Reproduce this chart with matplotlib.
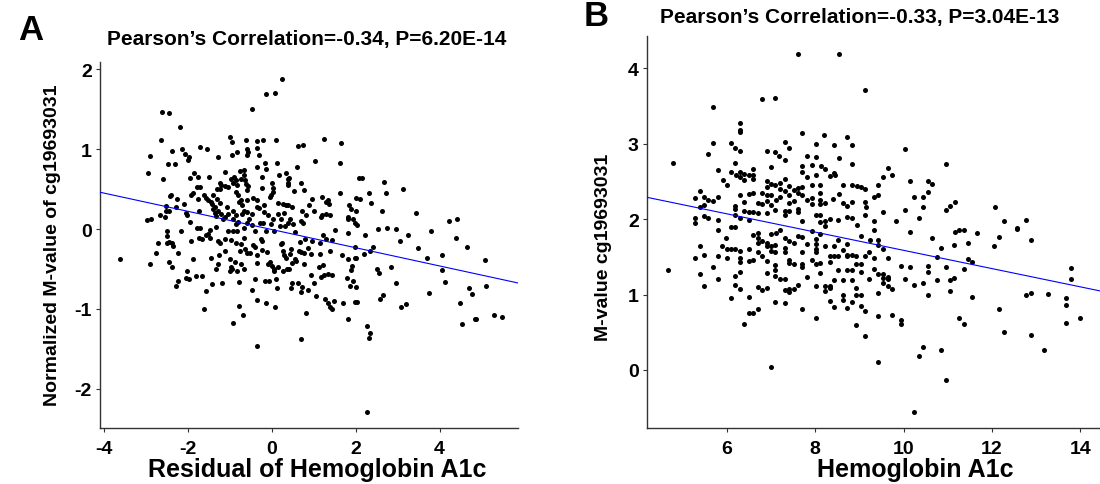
import numpy as np
import matplotlib
matplotlib.use("Agg")
import matplotlib.pyplot as plt

plt.rcParams['font.family'] = ['Liberation Sans', 'DejaVu Sans']
plt.rcParams['font.weight'] = 'bold'
plt.rcParams['axes.unicode_minus'] = False

# Panel A: residual of HbA1c vs normalized M-value
a_points = np.array([
    (0.24, 1.88), (-0.14, 1.69), (0.07, 1.70), (-0.46, 1.50), (-2.62, 1.47), (-2.44, 1.45),
    (-2.18, 1.28), (-2.64, 1.11), (-2.89, 0.91), (-2.38, 0.98), (-2.48, 0.81), (-2.31, 0.81),
    (-2.94, 0.70), (-2.59, 0.62), (-2.13, 1.00), (-2.06, 0.94), (-1.98, 0.90), (-2.00, 0.86),
    (-1.71, 1.03), (-1.54, 1.00), (-1.29, 0.90), (-0.99, 1.15), (-0.94, 1.09), (-0.94, 0.92),
    (-0.82, 0.96), (-0.61, 1.12), (-0.58, 1.00), (-0.56, 0.97), (-0.58, 0.93), (-0.34, 1.10),
    (-0.20, 1.12), (-0.34, 1.01), (-0.30, 0.92), (-0.17, 0.83), (0.10, 1.12), (0.12, 0.83),
    (-0.35, 0.78), (-0.14, 0.75), (0.63, 1.04), (0.74, 1.05), (1.04, 0.85), (0.60, 0.77),
    (0.18, 0.67), (0.34, 0.70), (0.42, 0.64), (0.38, 0.62), (0.69, 0.57), (0.77, 0.49),
    (0.53, 0.47), (0.38, 0.57), (0.40, 0.55), (0.02, 0.57), (0.03, 0.51), (-0.02, 0.42),
    (-0.23, 0.51), (-0.22, 0.65), (-0.75, 0.72), (-0.66, 0.74), (-0.66, 0.67), (-0.74, 0.63),
    (-0.64, 0.61), (-0.60, 0.56), (-0.56, 0.54), (-0.58, 0.49), (-0.82, 0.55), (-0.84, 0.46),
    (-0.80, 0.43), (-0.90, 0.65), (-0.98, 0.62), (-1.10, 0.71), (-0.86, 0.61), (-0.93, 0.57),
    (-1.23, 0.57), (-1.20, 0.55), (-1.10, 0.54), (-1.04, 0.53), (-1.22, 0.50), (-1.30, 0.50),
    (-1.50, 0.65), (-1.84, 0.70), (-1.75, 0.65), (-1.94, 0.64), (-1.88, 0.45), (-1.78, 0.52),
    (-1.76, 0.38), (-1.71, 0.53), (-2.43, 0.41), (-2.41, 0.43), (-2.26, 0.38), (-2.51, 0.29),
    (-2.67, 0.18), (-2.88, 0.13), (-2.98, 0.11), (-2.44, 0.23), (-2.52, 0.22), (-2.54, 0.15),
    (-2.29, 0.27), (-2.10, 0.31), (-2.04, 0.20), (-2.02, 0.18), (-2.16, -0.02), (-1.95, 0.09),
    (-1.92, 0.43), (-1.72, 0.22), (-1.79, 0.01), (-1.70, 0.01), (-1.62, 0.42), (-1.57, 0.39),
    (-1.52, 0.36), (-1.40, 0.42), (-1.44, 0.34), (-1.42, 0.31), (-1.30, 0.37), (-1.23, 0.32),
    (-1.34, 0.28), (-1.39, 0.25), (-1.36, 0.20), (-1.32, 0.16), (-1.28, 0.22), (-1.20, 0.19),
    (-1.17, 0.13), (-1.06, 0.27), (-1.03, 0.19), (-1.10, 0.15), (-0.91, 0.22), (-0.86, 0.17),
    (-0.93, 0.12), (-0.86, 0.06), (-0.77, 0.34), (-0.74, 0.36), (-0.70, 0.30), (-0.58, 0.21),
    (-0.66, 0.22), (-0.70, 0.19), (-0.80, 0.09), (-0.65, 0.01), (-0.58, 0.08), (-0.48, 0.19),
    (-0.54, 0.12), (-0.46, 0.05), (-0.36, 0.36), (-0.58, 0.36), (-0.45, 0.39), (-0.36, 0.28),
    (-0.30, 0.26), (-0.19, 0.30), (-0.18, 0.21), (-0.20, 0.08), (-0.28, 0.08), (-0.03, 0.40),
    (0.04, 0.46), (-0.08, 0.17), (-0.02, 0.06), (0.04, 0.13), (0.16, 0.19), (0.16, 0.32),
    (0.26, 0.31), (0.34, 0.30), (0.40, 0.30), (0.48, 0.28), (0.29, 0.20), (0.22, 0.12),
    (0.19, 0.04), (0.31, 0.04), (0.38, 0.08), (0.44, 0.12), (0.51, 0.06), (0.72, 0.22),
    (0.70, 0.10), (0.81, 0.17), (0.88, 0.30), (0.96, 0.37), (1.02, 0.23), (1.17, 0.15),
    (0.75, 0.08), (0.56, -0.04), (0.05, -0.02), (-0.14, -0.02), (-0.40, -0.03), (-0.92, -0.03),
    (-0.82, -0.03), (-1.03, -0.03), (-1.48, -0.01), (-1.32, 0.02), (-2.50, -0.02),
    (-3.62, -0.38), (-2.90, -0.44), (-2.76, -0.30), (-2.71, -0.18), (-2.50, -0.09), (-2.50, -0.17),
    (-2.44, -0.16), (-2.38, -0.18), (-2.35, -0.21), (-2.44, -0.41), (-2.37, -0.48), (-2.22, -0.30),
    (-2.29, -0.71), (-2.24, -0.65), (-2.02, -0.53), (-2.03, -0.61), (-1.98, -0.63), (-1.87, -0.37),
    (-1.81, -0.59), (-1.67, -0.59), (-1.93, -0.15), (-1.74, -0.11), (-1.66, -0.12), (-1.57, -0.08),
    (-1.51, -0.06), (-1.46, -0.11), (-1.57, -0.77), (-1.62, -1.00), (-1.45, -0.36), (-1.41, -0.69),
    (-1.33, -0.50), (-1.28, -0.44), (-1.26, -0.33), (-1.28, -0.15), (-1.24, -0.17), (-1.18, -0.67),
    (-1.10, -0.28), (-1.12, -0.13), (-0.99, -0.38), (-0.98, -0.14), (-0.96, -0.48), (-0.99, -0.53),
    (-0.94, -0.50), (-0.93, -1.18), (-0.88, -0.41), (-0.86, -0.18), (-0.83, -0.53), (-0.77, -0.66),
    (-0.78, -0.96), (-0.69, -1.08), (-0.75, -0.27), (-0.73, -0.44), (-0.67, -0.50), (-0.74, -0.19),
    (-0.66, -0.11), (-0.64, -0.25), (-0.58, -0.30), (-0.52, -0.30), (-0.48, -0.76), (-0.44, -0.20),
    (-0.40, -0.23), (-0.36, -0.33), (-0.34, -0.43), (-0.39, -0.62), (-0.35, -0.89), (-0.35, -1.47),
    (-0.26, -0.13), (-0.24, -0.15), (-0.22, -0.26), (-0.16, -0.65), (-0.14, -0.93), (-0.10, -0.29),
    (-0.08, -0.44), (-0.05, -0.41), (-0.07, -0.65), (0.02, -0.46), (0.05, -0.52), (0.06, -0.50),
    (0.08, -0.98), (0.10, -0.63), (0.13, -0.74), (0.16, -0.48), (0.22, -0.19), (0.24, -0.17),
    (0.27, -0.27), (0.29, -0.33), (0.28, -0.52), (0.35, -0.36), (0.37, -0.50), (0.42, -0.50),
    (0.43, -0.31), (0.46, -0.25), (0.46, -0.74), (0.48, -0.67), (0.49, -0.42), (0.56, -0.38),
    (0.59, -0.40), (0.63, -0.67), (0.64, -0.28), (0.68, -0.16), (0.70, -0.29), (0.70, -1.38),
    (0.72, -0.73), (0.70, -0.79), (0.76, -0.30), (0.78, -0.44), (0.80, -0.13), (0.81, -1.05),
    (0.86, -0.24), (0.87, -0.76), (0.93, -0.31), (0.96, -0.15), (1.02, -0.67), (1.06, -0.84),
    (1.16, -0.18), (1.16, -0.31), (1.17, -0.60), (1.12, -0.48), (0.94, -0.58),
    (1.24, 1.13), (1.65, 1.08), (1.62, 0.83), (2.09, 0.64), (2.16, 0.64), (2.67, 0.59),
    (3.14, 0.50), (1.62, 0.45), (2.33, 0.45), (2.72, 0.45), (1.21, 0.40), (1.35, 0.36),
    (1.30, 0.34), (1.37, 0.31), (2.00, 0.39), (2.10, 0.37), (2.37, 0.33), (1.84, 0.30),
    (1.90, 0.25), (2.00, 0.22), (2.62, 0.23), (3.44, 0.20), (1.19, 0.17), (1.29, 0.19),
    (1.39, 0.17), (1.83, 0.15), (1.95, 0.12), (1.81, 0.12), (1.98, 0.08), (2.03, 0.05),
    (1.50, -0.01), (2.53, 0.00), (2.74, 0.01), (2.96, 0.00), (3.80, -0.02), (4.23, 0.10),
    (4.41, 0.13),
    (1.23, -0.08), (1.30, -0.13), (1.44, -0.14), (1.81, -0.05), (2.23, -0.08), (3.05, -0.15),
    (3.26, -0.07), (4.40, -0.11), (4.65, -0.23), (3.49, -0.24), (2.42, -0.22), (1.98, -0.23),
    (1.39, -0.28), (1.67, -0.32), (1.82, -0.38), (1.99, -0.36), (2.02, -0.36), (2.19, -0.31),
    (2.34, -0.28), (1.92, -0.46), (1.89, -0.51), (1.79, -0.61), (1.95, -0.65), (1.87, -0.71),
    (2.01, -0.73), (1.98, -0.91), (2.04, -0.91), (2.51, -0.50), (2.55, -0.55), (2.57, -0.88),
    (2.65, -0.83), (2.85, -0.48), (2.96, -0.68), (3.08, -0.98), (3.20, -0.94), (1.83, -1.12),
    (2.28, -1.21), (2.35, -1.30), (2.32, -1.36), (2.28, -2.29), (3.69, -0.36), (4.05, -0.33),
    (4.07, -0.51), (4.12, -0.66), (3.74, -0.80), (4.49, -0.93), (4.70, -0.74), (4.78, -0.81),
    (5.09, -0.39), (5.10, -0.71), (4.53, -1.19), (4.84, -1.13), (4.87, -1.12), (5.31, -1.08),
    (5.50, -1.10), (1.22, -0.45), (1.24, -0.58), (1.34, -0.56), (1.43, -0.58), (1.26, -0.87),
    (1.34, -0.92), (1.38, -0.97), (1.44, -1.00), (1.49, -0.90), (1.71, -0.93),
])

# Panel B: HbA1c vs M-value
b_points = np.array([
    (7.61, 4.19), (8.53, 4.19), (9.13, 3.72), (6.80, 3.60), (7.10, 3.61), (5.68, 3.49),
    (6.29, 3.28), (6.29, 3.18), (6.29, 3.15), (7.71, 3.14), (8.21, 3.12), (8.73, 3.09),
    (5.68, 3.01), (6.09, 3.01), (7.31, 3.02), (8.02, 3.00), (8.42, 2.98), (8.83, 2.98),
    (6.19, 2.95), (7.41, 2.95), (6.29, 2.90), (6.90, 2.91), (7.10, 2.89), (7.19, 2.84),
    (7.31, 2.79), (5.58, 2.87), (4.77, 2.74), (8.53, 2.81), (7.82, 2.84), (8.02, 2.82),
    (6.19, 2.74), (8.84, 2.73), (7.71, 2.71), (7.92, 2.72), (8.12, 2.70), (7.00, 2.69),
    (5.79, 2.65), (6.60, 2.66), (6.09, 2.62), (6.29, 2.63), (7.71, 2.63), (8.22, 2.67),
    (6.39, 2.60), (6.50, 2.59), (6.60, 2.59), (6.20, 2.58), (6.29, 2.56), (7.82, 2.56),
    (8.02, 2.59), (8.33, 2.57), (8.42, 2.61), (8.44, 2.58), (5.90, 2.52), (6.39, 2.52),
    (6.60, 2.53), (7.31, 2.53), (6.00, 2.45), (6.90, 2.50), (7.00, 2.47), (6.90, 2.43),
    (7.10, 2.46), (7.20, 2.48), (7.41, 2.44), (7.62, 2.42), (7.71, 2.43), (7.92, 2.46),
    (8.11, 2.45), (8.62, 2.45), (8.84, 2.46), (8.94, 2.44), (9.03, 2.43), (9.13, 2.40),
    (7.20, 2.40), (7.31, 2.37), (7.51, 2.39), (7.61, 2.35), (5.38, 2.37), (6.29, 2.32),
    (6.50, 2.33), (6.60, 2.35), (6.80, 2.35), (6.90, 2.32), (7.00, 2.32), (7.20, 2.30),
    (7.41, 2.32), (7.71, 2.32), (8.11, 2.35), (8.53, 2.33), (5.49, 2.30), (5.28, 2.28),
    (5.58, 2.26), (5.68, 2.24), (5.79, 2.29), (6.39, 2.23), (6.70, 2.22), (6.80, 2.20),
    (6.90, 2.24), (7.00, 2.19), (7.11, 2.25), (7.41, 2.22), (7.51, 2.24), (7.81, 2.26),
    (7.92, 2.28), (7.92, 2.20), (8.11, 2.25), (8.11, 2.20), (8.22, 2.22), (8.41, 2.27),
    (8.62, 2.21), (8.73, 2.18), (8.83, 2.23), (9.13, 2.23), (9.14, 2.16), (5.38, 2.16),
    (5.49, 2.19), (6.19, 2.18), (6.19, 2.13), (6.39, 2.11), (6.50, 2.09), (6.60, 2.09),
    (6.70, 2.08), (6.90, 2.08), (7.10, 2.12), (7.31, 2.11), (7.31, 2.06), (7.41, 2.11),
    (7.61, 2.10), (7.61, 2.14), (7.71, 1.97), (8.02, 2.05), (8.11, 2.06), (8.22, 1.98),
    (8.33, 2.00), (8.52, 1.99), (8.73, 2.03), (8.84, 2.01), (9.13, 2.06), (5.28, 2.01),
    (5.28, 1.95), (5.49, 2.04), (5.58, 2.01), (5.79, 1.99), (6.19, 2.05), (6.29, 2.01),
    (6.09, 1.90), (6.19, 1.90), (6.50, 1.99), (8.11, 1.96), (8.22, 1.91), (8.94, 1.92),
    (4.67, 1.33), (5.28, 1.48), (5.38, 1.65), (5.38, 1.27), (5.49, 1.53), (5.49, 1.12),
    (5.68, 1.37), (5.79, 1.51), (5.79, 1.20), (5.79, 1.85), (5.89, 1.64), (6.00, 1.61),
    (6.00, 1.49), (6.09, 1.60), (6.09, 0.96), (6.19, 1.60), (6.19, 1.25), (6.19, 1.13),
    (6.29, 1.58), (6.29, 1.49), (6.29, 1.43), (6.29, 1.30), (6.29, 1.07), (6.39, 0.61),
    (6.50, 1.61), (6.50, 1.44), (6.50, 0.97), (6.50, 0.75), (6.60, 1.46), (6.60, 0.75),
    (6.70, 0.81), (6.70, 1.10), (6.80, 1.06), (6.90, 1.09), (6.90, 1.29), (6.90, 1.44),
    (7.00, 0.04), (7.10, 1.39), (7.10, 1.33), (7.10, 1.24), (7.10, 0.90), (7.20, 1.20),
    (7.31, 1.20), (7.31, 1.06), (7.31, 0.89), (7.41, 1.04), (7.41, 1.08), (7.41, 1.42),
    (7.41, 1.46), (7.51, 1.40), (7.51, 1.08), (7.62, 1.13), (7.71, 0.81), (7.71, 1.41),
    (7.71, 1.36), (7.81, 1.23), (7.92, 1.46), (8.02, 1.40), (8.02, 1.12), (8.02, 0.69),
    (8.11, 1.42), (8.11, 1.29), (8.22, 1.12), (8.22, 1.05), (8.33, 1.11), (8.33, 1.09),
    (8.33, 0.92), (8.42, 1.19), (8.42, 0.84), (8.52, 1.33), (8.62, 1.00), (8.62, 0.93),
    (8.62, 1.19), (8.73, 1.33), (8.73, 0.82), (8.83, 1.19), (8.83, 1.33), (8.83, 0.90),
    (8.93, 0.60), (8.93, 0.99), (8.93, 1.09), (8.93, 1.40), (9.03, 1.30), (9.03, 1.40),
    (9.03, 1.00), (9.03, 0.85), (9.13, 0.78), (9.13, 0.45), (9.21, 1.21), (9.13, 1.51),
    (5.99, 1.75), (6.60, 1.79), (6.70, 1.82), (6.70, 1.75), (6.70, 1.69), (6.70, 1.56),
    (6.80, 1.71), (6.80, 1.51), (6.90, 1.68), (6.90, 1.64), (7.00, 1.80), (7.00, 1.58),
    (7.00, 1.64), (7.11, 1.82), (7.10, 1.66), (7.10, 1.57), (7.20, 1.85), (7.31, 1.75),
    (7.31, 1.62), (7.31, 1.57), (7.41, 1.71), (7.51, 1.68), (7.62, 1.78), (7.71, 1.76),
    (7.71, 1.56), (7.81, 1.67), (7.92, 1.84), (8.02, 1.74), (8.02, 1.67), (8.02, 1.61),
    (8.02, 1.56), (8.11, 1.81), (8.22, 1.64), (8.33, 1.51), (8.33, 1.43), (8.42, 1.64),
    (8.42, 1.51), (8.52, 1.73), (8.52, 1.51), (8.62, 1.59), (8.73, 1.67), (8.73, 1.53),
    (8.73, 1.51), (8.83, 1.53), (8.93, 1.51), (9.03, 1.78), (9.22, 1.56),
    (10.04, 2.93), (10.96, 2.73), (9.64, 2.68), (9.73, 2.59), (9.53, 2.56), (9.43, 2.46),
    (10.14, 2.51), (10.55, 2.51), (10.65, 2.47), (10.55, 2.36), (9.33, 2.30), (9.43, 2.32),
    (10.24, 2.30), (10.44, 2.30), (11.16, 2.23), (11.06, 2.18), (10.96, 2.12), (10.44, 2.16),
    (10.04, 2.12), (9.53, 2.09), (10.35, 2.02), (12.07, 2.16), (12.27, 1.98), (12.78, 1.99),
    (12.57, 1.88), (9.33, 1.97), (9.84, 1.97),
    (9.33, 1.86), (10.14, 1.83), (9.43, 1.73), (9.43, 1.66), (9.53, 1.61), (9.23, 1.73),
    (9.33, 1.48), (9.64, 1.48), (10.65, 1.75), (10.85, 1.62), (10.75, 1.50), (11.16, 1.83),
    (11.25, 1.85), (11.36, 1.85), (11.66, 1.82), (11.15, 1.66), (11.46, 1.68), (11.46, 1.47),
    (11.56, 1.43), (11.36, 1.34), (12.06, 1.65), (12.17, 1.77), (12.57, 1.87), (12.88, 1.73),
    (9.33, 1.34), (9.43, 1.27), (9.53, 1.27), (9.53, 1.22), (9.64, 1.23), (9.64, 1.20),
    (9.64, 1.12), (9.53, 1.15), (9.73, 1.08), (9.43, 1.02), (9.94, 1.38), (10.14, 1.36),
    (10.04, 1.20), (10.24, 1.13), (10.44, 1.16), (10.55, 1.38), (10.55, 1.30), (10.55, 0.99),
    (10.75, 1.19), (10.96, 1.36), (11.06, 1.19), (11.06, 1.05), (11.15, 1.22), (11.56, 0.97),
    (9.73, 0.73), (9.43, 0.72), (9.94, 0.66), (9.94, 0.61), (11.25, 0.69), (11.36, 0.61),
    (10.44, 0.31), (10.35, 0.18), (10.85, 0.27), (9.43, 0.10), (10.96, -0.13), (10.24, -0.56),
    (12.17, 0.81), (12.27, 0.51), (12.78, 1.00), (12.88, 1.02), (13.28, 1.01), (12.88, 0.46),
    (13.19, 0.26), (13.69, 0.95), (13.69, 0.86), (13.69, 0.62), (13.79, 1.35), (13.79, 1.21),
    (13.99, 0.69),
])

# fitted lines (slope, intercept) as drawn in the figure
a_fit = (-0.114, -0.006)
b_fit = (-0.121, 2.797)

a_xticks = [-4, -2, 0, 2, 4]
a_yticks = [-2, -1, 0, 1, 2]
b_xticks = [6, 8, 10, 12, 14]
b_yticks = [0, 1, 2, 3, 4]

a_title = "Pearson\u2019s Correlation=-0.34, P=6.20E-14"
b_title = "Pearson\u2019s Correlation=-0.33, P=3.04E-13"

W, H = 1100, 485
fig = plt.figure(figsize=(W / 100, H / 100), dpi=100)


def style(ax, xticks, yticks, xlim, ylim):
    ax.set_xlim(*xlim)
    ax.set_ylim(*ylim)
    ax.set_xticks(xticks)
    ax.set_yticks(yticks)
    for s in ['top', 'right']:
        ax.spines[s].set_visible(False)
    for s in ['left', 'bottom']:
        ax.spines[s].set_color('#333333')
        ax.spines[s].set_linewidth(1.0)
    ax.tick_params(length=3, width=0.8, color='#333333', labelsize=14, pad=3)
    ax.tick_params(axis='x', pad=6)
    for lab in ax.get_xticklabels() + ax.get_yticklabels():
        lab.set_fontweight('bold')


axA = fig.add_axes([100 / W, 1 - 429 / H, 418 / W, 366 / H])
axA.scatter(a_points[:, 0], a_points[:, 1], s=13, color='black', linewidths=0, zorder=2)
axA.axline((0, a_fit[1]), slope=a_fit[0], color='blue', lw=0.8, zorder=3)
style(axA, a_xticks, a_yticks, (-4.09, 5.87), (-2.49, 2.09))

axB = fig.add_axes([647 / W, 1 - 429 / H, 453 / W, 392 / H])
axB.scatter(b_points[:, 0], b_points[:, 1], s=13, color='black', linewidths=0, zorder=2)
axB.axline((0, b_fit[1]), slope=b_fit[0], color='blue', lw=0.8, zorder=3)
style(axB, b_xticks, b_yticks, (4.19, 14.45), (-0.77, 4.43))

fig.text(31 / W, 1 - 30 / H, "A", fontsize=25, fontweight='bold', ha='center', va='center')
fig.text(596 / W, 1 - 17 / H, "B", fontsize=25, fontweight='bold', ha='center', va='center')
fig.text(307 / W, 1 - 39 / H, a_title, fontsize=15, fontweight='bold', ha='center', va='center')
fig.text(860 / W, 1 - 18 / H, b_title, fontsize=15, fontweight='bold', ha='center', va='center')

fig.text(317 / W, 1 - 470 / H, "Residual of Hemoglobin A1c", fontsize=18, fontweight='bold',
         ha='center', va='center')
fig.text(915 / W, 1 - 470 / H, "Hemoglobin A1c", fontsize=18, fontweight='bold',
         ha='center', va='center')
fig.text(53 / W, 1 - 245 / H, "Normalized M-value of cg19693031", fontsize=14, fontweight='bold',
         rotation=90, ha='center', va='center')
fig.text(603 / W, 1 - 247 / H, "M-value cg19693031", fontsize=14, fontweight='bold',
         rotation=90, ha='center', va='center')

fig.savefig("out.png", dpi=100)
